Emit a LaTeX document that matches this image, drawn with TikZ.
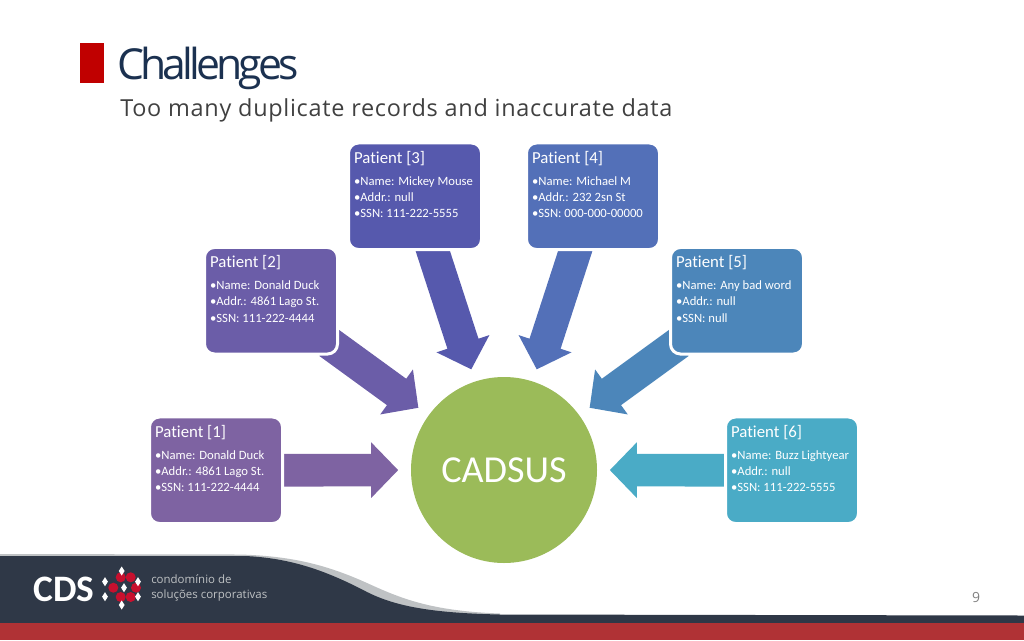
\documentclass[tikz,border=0pt]{standalone}
\usepackage{fontspec}
\setmainfont[Ligatures=NoCommon]{Carlito}
\newfontfamily\titlefont[LetterSpace=-9]{Open Sans}
\newfontfamily\subfont[LetterSpace=3]{Open Sans}
\newfontfamily\logofont{Open Sans}
\usetikzlibrary{arrows.meta,backgrounds,shapes.geometric}
\definecolor{cA}{HTML}{7E63A2}
\definecolor{cB}{HTML}{6B5DA8}
\definecolor{cC}{HTML}{5659AD}
\definecolor{cD}{HTML}{5370B8}
\definecolor{cE}{HTML}{4C86BA}
\definecolor{cF}{HTML}{4AABC6}
\definecolor{cG}{HTML}{9BBB59}
\definecolor{cNavy}{HTML}{1B3150}
\definecolor{cDark}{HTML}{2F3847}
\definecolor{cFoot}{HTML}{B03235}
\definecolor{cGrey}{HTML}{BFC2C4}
\definecolor{cSub}{HTML}{404040}
\definecolor{cRed}{HTML}{C00000}
\definecolor{cLogoRed}{HTML}{C8102E}
\tikzset{
  x=0.75pt,y=-0.75pt,
  patient/.style={rectangle,rounded corners=7.5pt,draw=white,line width=2.25pt,fill=#1,
    minimum width=99.75pt,minimum height=79.9pt,inner sep=0pt,outer sep=0pt},
  patienttext/.style={anchor=north west,inner sep=0pt,outer sep=0pt,text=white,align=left,
    font=\fontsize{9.5}{12.25}\selectfont},
  blockarrow/.style={draw=#1,line width=24.5pt,shorten <=-8pt,shorten >=9.6pt,
    -{Triangle[length=20.25pt,width=40.5pt]}},
  hub/.style={circle,fill=cG,minimum size=139.5pt,inner sep=0pt,outer sep=0pt,text=white,font=\fontsize{28.6}{28.6}\selectfont},
  rhomb/.style={diamond,fill=white,minimum width=4.5pt,minimum height=7pt,inner sep=0pt,aspect=0.6},
  blob/.style={circle,fill=cLogoRed,minimum size=7.5pt,inner sep=0pt},
}
\newcommand{\patientbox}[8]{%
  \node[patient=#4] (#1) at (#2,#3) {};
  \node[patienttext] (#1t) at ([xshift=4.2pt,yshift=-6pt]#1.north west)
   {{\fontsize{12.6}{12.6}\selectfont #5}\\[4.25pt]
    •#6\\ •#7\\ •#8};
}
\begin{document}
\begin{tikzpicture}
\useasboundingbox (0,0) rectangle (1024,640);
% footer
\fill[cGrey] (0,554) -- (240,554.5) .. controls (290,556) and (325,564) .. (367,583)
   .. controls (400,598) and (430,611) .. (500,613.5) -- (500,620) -- (0,620) -- cycle;
\fill[cDark] (0,556) -- (245,556) .. controls (290,558) and (325,570) .. (367,592)
   .. controls (395,606) and (430,613) .. (500,614.5) -- (1024,615.5) -- (1024,624) -- (0,624) -- cycle;
\fill[cFoot] (0,623) rectangle (1024,640);
\node[anchor=base west,inner sep=0pt,text=white] (cds) at (33,601) {\fontsize{28}{28}\selectfont\bfseries CDS};
\foreach \i/\px/\py in {a/120.7/577.3,b/130.7/577.3,c/113.3/587.7,d/136/587.7,e/120.7/597,f/130.7/597}
  \node[blob] (blob\i) at (\px,\py) {};
\foreach \i/\px/\py in {a/121.7/571,b/105/581.7,c/105/596.7,d/138/581.7,e/138/596.7,f/121.7/605,g/124/587.7}
  \node[rhomb] (rh\i) at (\px,\py) {};
\node[anchor=west,inner sep=0pt,text=cGrey,align=left,font=\logofont\fontsize{8.6}{11.3}\selectfont] (tag) at (151,588)
  {condomínio de\\ soluções corporativas};
\node[inner sep=0pt,text=gray] (pg) at (976,597.5) {\logofont\fontsize{10.5}{12}\selectfont 9};
% title
\fill[cRed] (80,43) rectangle (103.5,83);
\node[anchor=base west,inner sep=0pt,text=cNavy] (title) at (117,79) {\titlefont\fontsize{32}{32}\selectfont Challenges};
\node[anchor=base west,inner sep=0pt,text=cSub] (sub) at (120,116) {\subfont\fontsize{17.6}{17.6}\selectfont Too many duplicate records and inaccurate data};
% boxes
\node[hub] (cadsus) at (504,470) {CADSUS};
\patientbox{pa}{216}{470.25}{cA}{Patient [1]}{Name: Donald Duck}{Addr.: 4861 Lago St.}{SSN: 111-222-4444}
\patientbox{pb}{271}{300.75}{cB}{Patient [2]}{Name: Donald Duck}{Addr.: 4861 Lago St.}{SSN: 111-222-4444}
\patientbox{pc}{415}{196.25}{cC}{Patient [3]}{Name: Mickey Mouse}{Addr.: null}{SSN: 111-222-5555}
\patientbox{pd}{593}{196.25}{cD}{Patient [4]}{Name: Michael M}{Addr.: 232 2sn St}{SSN: 000-000-00000}
\patientbox{pe}{737}{300.75}{cE}{Patient [5]}{Name: Any bad word}{Addr.: null}{SSN: null}
\patientbox{pf}{792}{470.25}{cF}{Patient [6]}{Name: Buzz Lightyear}{Addr.: null}{SSN: 111-222-5555}
\begin{scope}[on background layer]
\draw[blockarrow=cA] (pa) -- (cadsus);
\draw[blockarrow=cB] (pb) -- (cadsus);
\draw[blockarrow=cC] (pc) -- (cadsus);
\draw[blockarrow=cD] (pd) -- (cadsus);
\draw[blockarrow=cE] (pe) -- (cadsus);
\draw[blockarrow=cF] (pf) -- (cadsus);
\end{scope}
\end{tikzpicture}
\end{document}
